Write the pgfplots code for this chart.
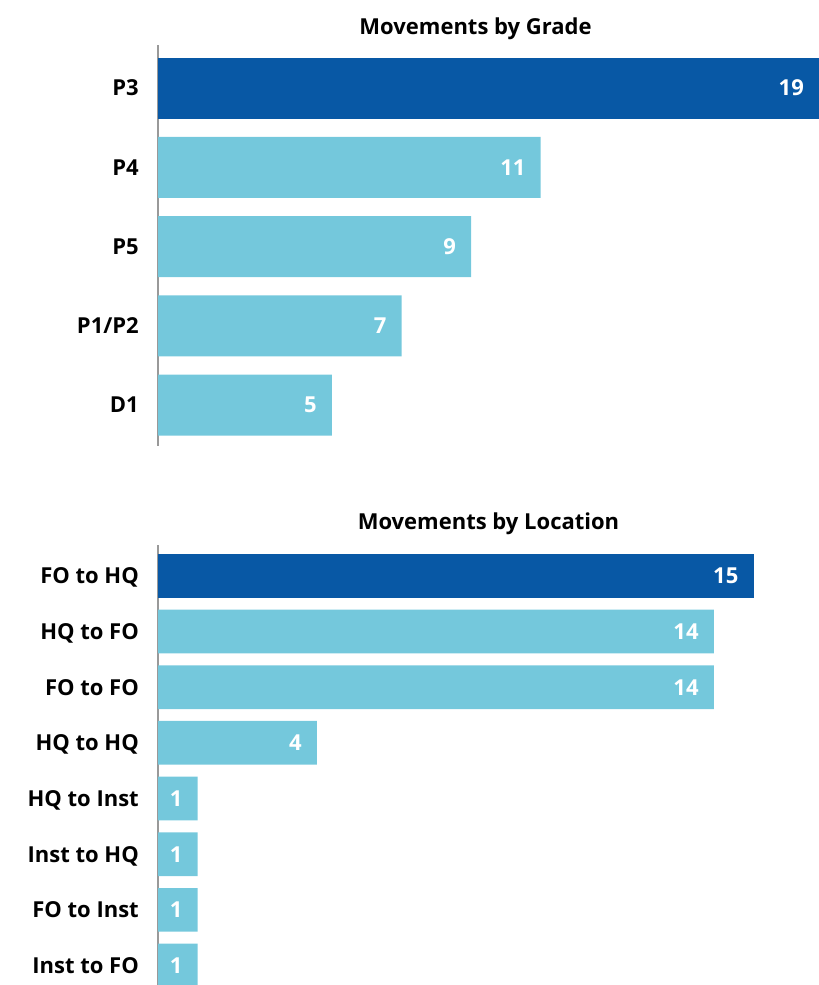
\documentclass[border=0pt]{standalone}
\usepackage{fontspec}
\setmainfont{Open Sans}
\usepackage{pgfplots}
\pgfplotsset{compat=1.18}
\definecolor{darkb}{RGB}{8,88,165}
\definecolor{lightb}{RGB}{116,200,220}
\definecolor{axgray}{RGB}{153,153,153}
\newcommand\lbl{\fontsize{22bp}{26bp}\selectfont\bfseries}
\pgfplotsset{
  mybars/.style={
    xbar, bar shift=0pt,
    scale only axis, width=661bp,
    xmin=0,
    axis y line*=left, axis x line=none,
    y axis line style={axgray, line width=1.6bp, -},
    y dir=reverse,
    major tick length=0pt,
    yticklabel style={anchor=east, inner sep=0pt, xshift=-19bp, font=\lbl, text height=15.7bp, text depth=0pt, text=black},
    nodes near coords,
    every node near coord/.append style={anchor=east, text=white, font=\lbl, inner sep=0pt, xshift=-15bp, text height=15.7bp, text depth=0pt},
    /pgf/number format/assume math mode=true,
    title style={font=\lbl, anchor=base, at={(0.5,1)}},
  }
}
\begin{document}
\begin{tikzpicture}
\useasboundingbox (0,0) rectangle (819bp,-985bp);
\begin{axis}[mybars, at={(158bp,-446bp)}, anchor=south west, height=401bp,
  ymin=-0.543, ymax=4.517, xmax=19, bar width=61bp,
  ytick={0,1,2,3,4}, yticklabels={P3,P4,P5,P1/P2,D1},
  title={Movements by Grade}, title style={yshift=4.5bp, xshift=-13bp}]
\addplot[fill=darkb, draw=none] coordinates {(19,0)};
\addplot[fill=lightb, draw=none] coordinates {(11,1) (9,2) (7,3) (5,4)};
\end{axis}
\begin{axis}[mybars, at={(158bp,-985bp)}, anchor=south west, height=440bp,
  ymin=-0.553, ymax=7.35, xmax=16.65, bar width=43.7bp,
  ytick={0,1,2,3,4,5,6,7}, yticklabels={FO to HQ,HQ to FO,FO to FO,HQ to HQ,HQ to Inst,Inst to HQ,FO to Inst,Inst to FO},
  title={Movements by Location}, title style={yshift=9.7bp}]
\addplot[fill=darkb, draw=none] coordinates {(15,0)};
\addplot[fill=lightb, draw=none] coordinates {(14,1) (14,2) (4,3) (1,4) (1,5) (1,6) (1,7)};
\end{axis}
\end{tikzpicture}
\end{document}
